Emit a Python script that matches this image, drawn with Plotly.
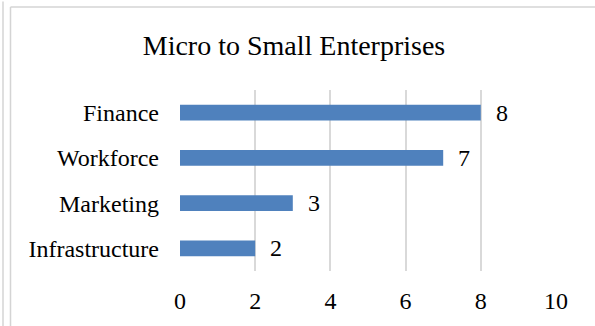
import plotly.graph_objects as go

# Chart data
categories = ["Finance", "Workforce", "Marketing", "Infrastructure"]
values = [8, 7, 3, 2]
x_ticks = [0, 2, 4, 6, 8, 10]

W, H = 595, 326
L, R, T, B = 180, 39, 90, 52
pw, ph = W - L - R, H - T - B

def px_x(px):
    return (px - L) / pw

def px_y(py):
    return (H - B - py) / ph

serif = "Liberation Serif"
bar_color = "#4F81BD"
grid_color = "#D9D9D9"
label_size = 24

fig = go.Figure()
fig.add_trace(go.Bar(
    x=values,
    y=categories,
    orientation="h",
    marker=dict(color=bar_color, line=dict(width=0)),
    width=0.35,
    hoverinfo="skip",
))

# value labels to the right of each bar
for c, v in zip(categories, values):
    fig.add_annotation(
        x=v, y=c, text=str(v), showarrow=False,
        xanchor="left", yanchor="middle", xshift=13,
        font=dict(family=serif, size=label_size, color="#000000"),
    )

# outer frame lines
frame = dict(color="#D4D4D4", width=1.5)
fig.add_shape(type="line", xref="paper", yref="paper",
              x0=px_x(3), x1=px_x(3), y0=px_y(0), y1=px_y(H + 5), line=frame)
fig.add_shape(type="line", xref="paper", yref="paper",
              x0=px_x(10.5), x1=px_x(10.5), y0=px_y(5.5), y1=px_y(H + 5), line=frame)
fig.add_shape(type="line", xref="paper", yref="paper",
              x0=px_x(10.5), x1=px_x(W + 5), y0=px_y(5.5), y1=px_y(5.5), line=frame)

fig.update_layout(
    width=W, height=H,
    margin=dict(l=L, r=R, t=T, b=B),
    paper_bgcolor="white", plot_bgcolor="white",
    showlegend=False,
    title=dict(
        text="Micro to Small Enterprises",
        xref="container", x=294 / W, xanchor="center",
        yref="container", y=1 - 45 / H, yanchor="middle",
        font=dict(family=serif, size=28, color="#000000"),
    ),
    xaxis=dict(
        range=[0, 10], tickvals=x_ticks,
        showgrid=True, gridcolor=grid_color, gridwidth=1.5,
        zeroline=False, showline=False, ticks="",
        ticklabelstandoff=13,
        tickfont=dict(family=serif, size=label_size, color="#000000"),
        fixedrange=True,
    ),
    yaxis=dict(
        categoryorder="array", categoryarray=categories[::-1],
        showgrid=False, zeroline=False, showline=False, ticks="",
        ticklabelstandoff=20,
        tickfont=dict(family=serif, size=label_size, color="#000000"),
        fixedrange=True,
    ),
)

fig.write_html("out.html")
